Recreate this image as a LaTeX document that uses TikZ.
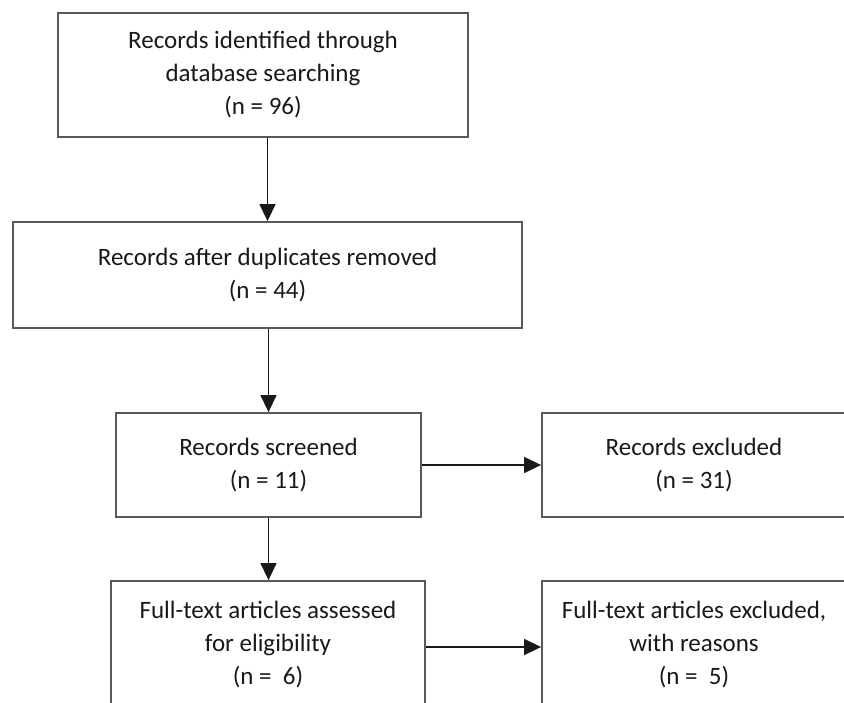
\documentclass[tikz,border=0pt]{standalone}
\usepackage{fontspec}
\setmainfont{Carlito}
\usetikzlibrary{arrows.meta}

\begin{document}
\begin{tikzpicture}[x = 1pt, y = -1pt,
        box/.style = {draw = black!65, line width = 1.8pt, inner sep = 0pt, align = center,
            text = black!90, font = \fontsize{25}{33}\selectfont},
        arr/.style = {draw = black!90, line width = 1.4pt, -{Triangle[length = 17pt, width = 16pt]}}]
        \useasboundingbox (0, 0) rectangle (844, 702);
        \clip (0, 0) rectangle (844, 702);
        \node[box, minimum width = 410pt, minimum height = 124pt] (ident) at (263, 75)
            {Records identified through\\database searching\\(n = 96)};
        \node[box, minimum width = 509pt, minimum height = 106pt] (dup) at (267.5, 275)
            {Records after duplicates removed\\(n = 44)};
        \node[box, minimum width = 305pt, minimum height = 104pt] (screen) at (268.5, 465)
            {Records screened\\(n = 11)};
        \node[box, minimum width = 304pt, minimum height = 104pt] (excl) at (694, 465)
            {Records excluded\\(n = 31)};
        \node[box, minimum width = 314pt, minimum height = 128pt] (full) at (268, 645)
            {Full-text articles assessed\\for eligibility\\(n = \ 6)};
        \node[box, minimum width = 304pt, minimum height = 128pt] (fullexcl) at (694, 645)
            {Full-text articles excluded,\\with reasons\\(n = \ 5)};
        \draw[arr] (ident.south -| dup.north) -- (dup.north);
        \draw[arr] (dup.south -| screen.north) -- (screen.north);
        \draw[arr] (screen.east) -- (excl.west);
        \draw[arr] (screen.south) -- (screen.south |- full.north);
        \draw[arr] ([yshift = -2pt]full.east) -- ([yshift = -2pt]fullexcl.west);
    \end{tikzpicture}
\end{document}
